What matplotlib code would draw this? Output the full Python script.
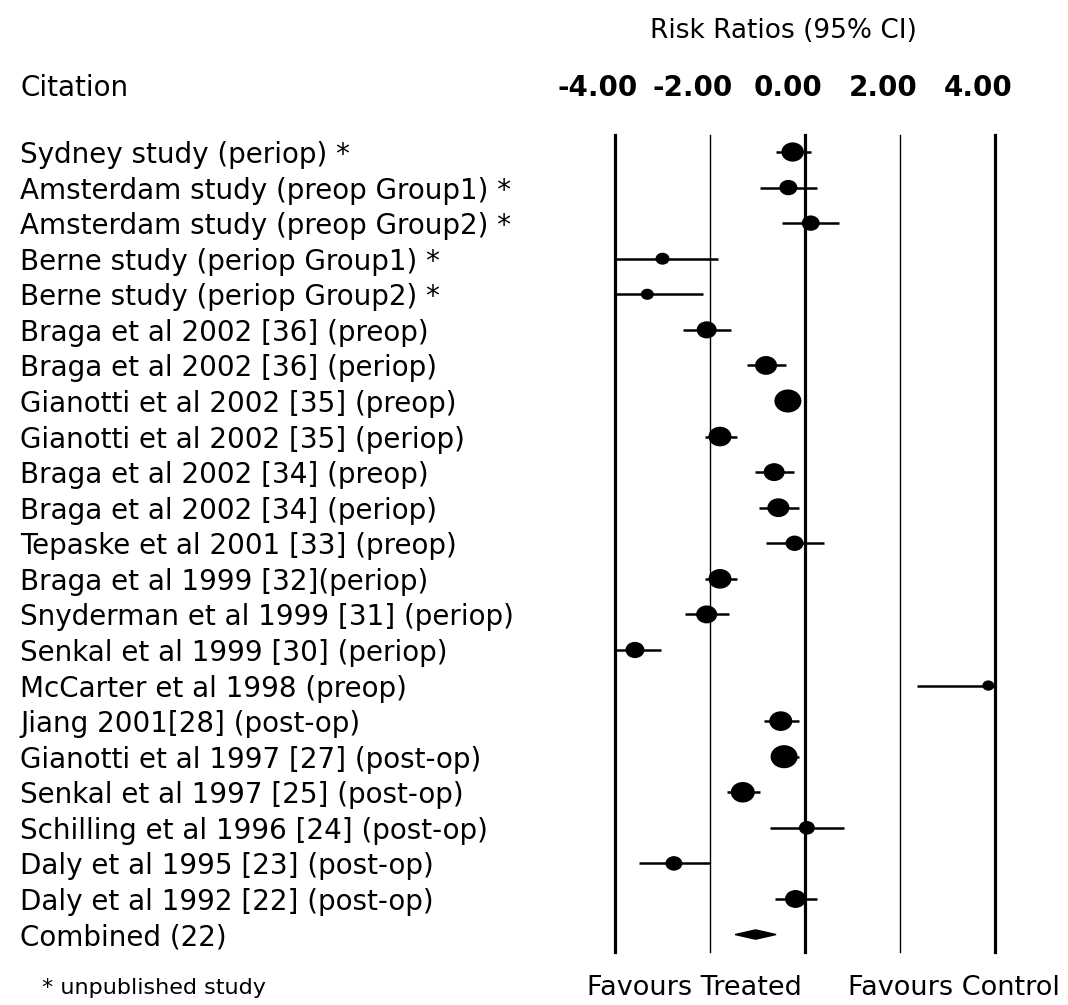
"""
Forest plot: risk ratios (95% CI) per study, with combined estimate.
"""
import numpy as np
import matplotlib
matplotlib.use("Agg")
import matplotlib.pyplot as plt
import matplotlib.transforms as mtransforms
from matplotlib.path import Path
from matplotlib.patches import Polygon

STUDIES = [
    "Sydney study (periop) *",
    "Amsterdam study (preop Group1) *",
    "Amsterdam study (preop Group2) *",
    "Berne study (periop Group1) *",
    "Berne study (periop Group2) *",
    "Braga et al 2002 [36] (preop)",
    "Braga et al 2002 [36] (periop)",
    "Gianotti et al 2002 [35] (preop)",
    "Gianotti et al 2002 [35] (periop)",
    "Braga et al 2002 [34] (preop)",
    "Braga et al 2002 [34] (periop)",
    "Tepaske et al 2001 [33] (preop)",
    "Braga et al 1999 [32](periop)",
    "Snyderman et al 1999 [31] (periop)",
    "Senkal et al 1999 [30] (periop)",
    "McCarter et al 1998 (preop)",
    "Jiang 2001[28] (post-op)",
    "Gianotti et al 1997 [27] (post-op)",
    "Senkal et al 1997 [25] (post-op)",
    "Schilling et al 1996 [24] (post-op)",
    "Daly et al 1995 [23] (post-op)",
    "Daly et al 1992 [22] (post-op)",
]
EST = [-0.26, -0.35, 0.12, -3.00, -3.32, -2.07, -0.82, -0.36, -1.79, -0.65, -0.56,
       -0.22, -1.79, -2.07, -3.58, 3.86, -0.51, -0.44, -1.31, 0.04, -2.76, -0.20]
CI_LO = [-0.61, -0.95, -0.48, -4.00, -4.00, -2.57, -1.23, -0.55, -2.10, -1.05, -0.96,
         -0.82, -2.10, -2.53, -4.00, 2.35, -0.86, -0.72, -1.65, -0.74, -3.49, -0.63]
CI_HI = [0.12, 0.26, 0.71, -1.83, -2.15, -1.56, -0.40, -0.15, -1.44, -0.23, -0.13,
         0.40, -1.44, -1.61, -3.04, 4.00, -0.12, -0.12, -0.95, 0.83, -2.00, 0.26]
# relative study weight (drawn as marker width)
WEIGHT = [22.5, 18, 18, 14, 13, 20, 22, 27, 23, 21, 22,
          18, 23, 21, 19, 12, 23, 27, 24, 16, 17, 21]

COMBINED_LABEL = "Combined (22)"
COMBINED = (-1.04, -1.47, -0.61)  # estimate, lo, hi

TICKS = [-4.0, -2.0, 0.0, 2.0, 4.0]
TICK_LABELS = ["-4.00", "-2.00", "0.00", "2.00", "4.00"]


def main():
    plt.rcParams["font.family"] = ["DejaVu Sans"]
    W, H = 1068, 1005
    fig = plt.figure(figsize=(W / 100, H / 100), dpi=100)

    # axes placed so that -4..4 spans px 615..995, lines from y=135 to 952
    ax = fig.add_axes([615 / W, (H - 952) / H, 380 / W, 817 / H])
    n = len(STUDIES) + 1
    row_px = 35.57
    ax.set_xlim(-4, 4)
    ax.set_ylim(n - 1 + (952 - 152 - (n - 1) * row_px) / row_px, -(152 - 135) / row_px)
    ax.axis("off")

    for t in TICKS:
        lw = 2.3 if t in (-4.0, 0.0, 4.0) else 1.0
        ax.axvline(t, color="black", lw=lw, zorder=1, clip_on=False)

    ys = np.arange(len(STUDIES))
    ax.hlines(ys, CI_LO, CI_HI, color="black", lw=1.8, zorder=2, clip_on=False)

    circ = Path.unit_circle()
    ellipse = Path(circ.vertices * np.array([1.17, 1.0]), circ.codes)
    ms = np.array(WEIGHT) * 0.72
    ax.scatter(EST, ys, s=ms ** 2, marker=ellipse, color="black",
               edgecolors="none", zorder=3, clip_on=False)

    est, lo, hi = COMBINED
    yc = len(STUDIES)
    h = 0.13
    ax.add_patch(Polygon([(lo, yc), (est, yc - h), (hi, yc), (est, yc + h)],
                         closed=True, color="black", zorder=3))

    # study labels
    lab_tr = mtransforms.blended_transform_factory(fig.transFigure, ax.transData)
    for i, name in enumerate(STUDIES + [COMBINED_LABEL]):
        ax.text(20 / W, i, name, transform=lab_tr, fontsize=20,
                ha="left", va="center_baseline")

    # header
    fig.text(20 / W, 1 - 85 / H, "Citation", fontsize=20, ha="left", va="center_baseline")
    fig.text(783 / W, 1 - 28 / H, "Risk Ratios (95% CI)", fontsize=19,
             ha="center", va="center_baseline")
    tick_tr = mtransforms.blended_transform_factory(ax.transData, fig.transFigure)
    tick_tr = mtransforms.offset_copy(tick_tr, fig=fig, x=-17, y=0, units="dots")
    for t, lab in zip(TICKS, TICK_LABELS):
        ax.text(t, 1 - 85 / H, lab, transform=tick_tr, fontsize=20,
                fontweight="bold", ha="center", va="center_baseline")

    # footer
    fig.text(42 / W, 1 - 986 / H, "* unpublished study", fontsize=16,
             ha="left", va="center_baseline")
    fig.text(694 / W, 1 - 985 / H, "Favours Treated", fontsize=19.5,
             ha="center", va="center_baseline")
    fig.text(954 / W, 1 - 985 / H, "Favours Control", fontsize=19.5,
             ha="center", va="center_baseline")

    fig.savefig("out.png", dpi=100)
    return 0


if __name__ == "__main__":
    raise SystemExit(main())
